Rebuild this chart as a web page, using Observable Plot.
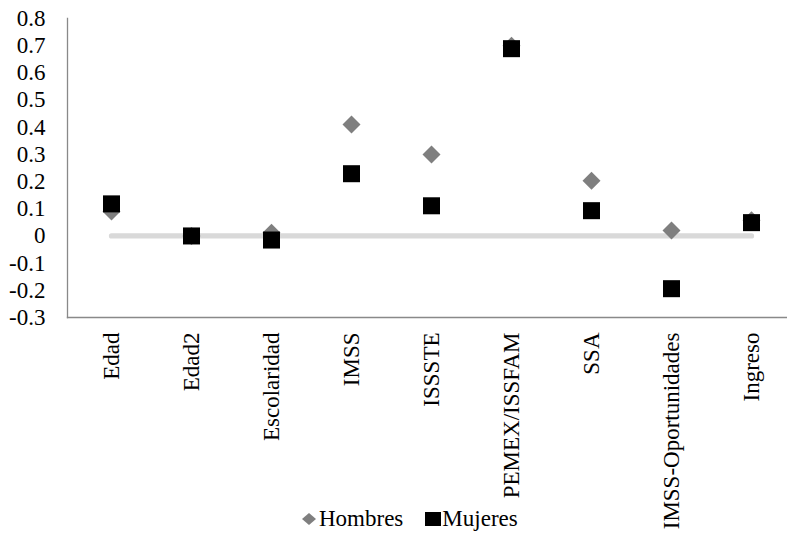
<!DOCTYPE html>
<html>
<head>
<meta charset="utf-8">
<script src="https://cdn.jsdelivr.net/npm/d3@7"></script>
<script src="https://cdn.jsdelivr.net/npm/@observablehq/plot@0.6"></script>
<style>
  html, body { margin: 0; padding: 0; background: #fff; overflow: hidden; }
  #wrap { position: relative; width: 787px; height: 535px; font-family: "Liberation Serif", "Times New Roman", serif; }
  #legend { position: absolute; left: 301px; top: 507px; height: 24px; line-height: 24px; font-size: 23px; display: flex; align-items: center; color: #000; white-space: nowrap; }
  #legend svg { display: block; }
</style>
</head>
<body>
<div id="wrap"></div>
<script>
const categories = ["Edad", "Edad2", "Escolaridad", "IMSS", "ISSSTE", "PEMEX/ISSFAM", "SSA", "IMSS-Oportunidades", "Ingreso"];
const hombres = [0.09, 0.0, 0.012, 0.41, 0.30, 0.70, 0.203, 0.02, 0.058];
const mujeres = [0.118, 0.0, -0.015, 0.229, 0.111, 0.689, 0.093, -0.194, 0.049];
const cero = [0, 0, 0, 0, 0, 0, 0, 0, 0];
const yTicks = [-0.3, -0.2, -0.1, 0, 0.1, 0.2, 0.3, 0.4, 0.5, 0.6, 0.7, 0.8];

const rowsH = categories.map((c, i) => ({cat: c, v: hombres[i]}));
const rowsM = categories.map((c, i) => ({cat: c, v: mujeres[i]}));
const rowsZ = categories.map((c, i) => ({cat: c, v: cero[i]}));

const fmt = d => Math.abs(d) < 1e-9 ? "0" : d.toFixed(1);

const chart = Plot.plot({
  width: 787,
  height: 535,
  marginLeft: 67,
  marginRight: 0,
  marginTop: 18,
  marginBottom: 218,
  style: {fontFamily: '"Liberation Serif", "Times New Roman", serif', fontSize: "23px", color: "#000", background: "#fff", overflow: "visible"},
  x: {type: "point", domain: categories, range: [67, 794], padding: 0.5},
  y: {domain: [-0.3, 0.8]},
  marks: [
    Plot.axisY({ticks: yTicks, tickFormat: fmt, tickSize: 0, tickPadding: 22, label: null, fontSize: 23}),
    Plot.axisX({tickRotate: -90, tickSize: 0, tickPadding: 15, label: null, fontSize: 23}),
    Plot.frame({anchor: "left", stroke: "#898989", strokeWidth: 1.3}),
    Plot.frame({anchor: "bottom", stroke: "#898989", strokeWidth: 1.3}),
    Plot.lineY(rowsZ, {x: "cat", y: "v", stroke: "#d9d9d9", strokeWidth: 5.3, strokeLinecap: "round"}),
    Plot.dot(rowsH, {x: "cat", y: "v", symbol: "diamond2", r: 8.1, fill: "#7f7f7f", stroke: "none"}),
    Plot.dot(rowsM, {x: "cat", y: "v", symbol: "square", r: 9.6, fill: "#000", stroke: "none"})
  ]
});

const wrap = document.getElementById("wrap");
wrap.appendChild(chart);

const legend = document.createElement("div");
legend.id = "legend";
legend.innerHTML =
  '<svg width="16" height="14" viewBox="0 0 16 14"><polygon points="8,1 15,7 8,13 1,7" fill="#7f7f7f"/></svg>' +
  '<span style="margin-left:2px">Hombres</span>' +
  '<svg style="margin-left:22px" width="16" height="14" viewBox="0 0 16 14"><rect x="0" y="0" width="16" height="14" fill="#000"/></svg>' +
  '<span style="margin-left:1px">Mujeres</span>';
wrap.appendChild(legend);
</script>
</body>
</html>
